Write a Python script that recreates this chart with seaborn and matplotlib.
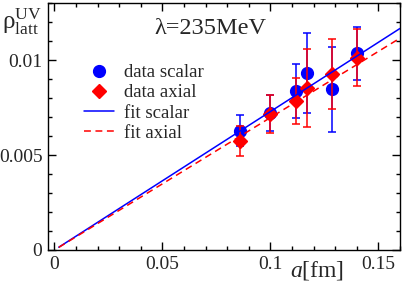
import numpy as np
import pandas as pd
import seaborn as sns
import matplotlib
matplotlib.use("Agg")
import matplotlib.pyplot as plt
from matplotlib.lines import Line2D
from matplotlib.ticker import MultipleLocator, FuncFormatter

# lattice spacing a [fm] and the two channels
a_vals = [0.086, 0.100, 0.112, 0.117, 0.1285, 0.140]
rho_scalar = [0.00628, 0.00720, 0.00837, 0.00930, 0.00846, 0.01035]
err_scalar = [0.00082, 0.00095, 0.00143, 0.00210, 0.00224, 0.00140]
rho_axial = [0.00575, 0.00714, 0.00784, 0.00851, 0.00926, 0.01012]
err_axial = [0.00080, 0.00100, 0.00120, 0.00205, 0.00182, 0.00150]

# fit lines (end points)
fit_a = [0.002, 0.16]
fit_scalar = [0.000146, 0.01166]
fit_axial = [0.000139, 0.01115]

sns.set_style("ticks")
plt.rcParams['font.family'] = ['Liberation Serif', 'DejaVu Serif']
plt.rcParams['mathtext.fontset'] = 'custom'
plt.rcParams['mathtext.rm'] = 'Liberation Serif'
plt.rcParams['mathtext.it'] = 'Liberation Serif:italic'

fig = plt.figure(figsize=(4.03, 2.84), dpi=100)
ax = fig.add_axes([48/403, 1 - 250/284, 352/403, 247/284])

# data points with error bars
ax.errorbar(a_vals, rho_scalar, yerr=err_scalar, fmt='o', color='blue', ms=8.5,
            elinewidth=1.1, capsize=2.6, capthick=1.1, zorder=2)
ax.errorbar(a_vals, rho_axial, yerr=err_axial, fmt='D', color='red', ms=7,
            elinewidth=1.1, capsize=2.6, capthick=1.1, zorder=3)

# fits
fits = pd.DataFrame({'a': fit_a + fit_a,
                     'rho': fit_scalar + fit_axial,
                     'fit': ['fit scalar'] * 2 + ['fit axial'] * 2})
sns.lineplot(data=fits[fits['fit'] == 'fit scalar'], x='a', y='rho', color='blue',
             lw=1.1, ax=ax, zorder=4)
sns.lineplot(data=fits[fits['fit'] == 'fit axial'], x='a', y='rho', color='red',
             lw=1.1, dashes=(4.5, 3), ax=ax, zorder=4)

ax.set_xlim(-0.003, 0.16)
ax.set_ylim(0, 0.013)
ax.xaxis.set_major_locator(MultipleLocator(0.05))
ax.xaxis.set_minor_locator(MultipleLocator(0.01))
ax.yaxis.set_major_locator(MultipleLocator(0.005))
ax.yaxis.set_minor_locator(MultipleLocator(0.001))
fmt = FuncFormatter(lambda v, p: '%g' % round(v, 6))
ax.xaxis.set_major_formatter(fmt)
ax.yaxis.set_major_formatter(fmt)
ax.tick_params(which='both', direction='in', top=True, right=True, width=1.0,
               labelsize=14, color='black')
ax.tick_params(which='major', length=5.5, pad=4)
ax.tick_params(which='minor', length=3)
for s in ax.spines.values():
    s.set_linewidth(1.0)
    s.set_color('black')
ax.set_xlabel('')
ax.set_ylabel('')

handles = [
    Line2D([], [], ls='none', marker='o', color='blue', ms=8.5),
    Line2D([], [], ls='none', marker='D', color='red', ms=7),
    Line2D([], [], color='blue', lw=1.1),
    Line2D([], [], color='red', lw=1.1, dashes=(4.5, 3)),
]
labels = ['data scalar', 'data axial', 'fit scalar', 'fit axial']
ax.legend(handles, labels, loc='upper left', bbox_to_anchor=(0.075, 0.79),
          frameon=False, fontsize=13.5, borderpad=0, handlelength=1.6,
          handletextpad=0.55, labelspacing=0.16)

ax.text(0.46, 0.895, 'λ=235MeV', transform=ax.transAxes, ha='center', va='center',
        fontsize=17.5)
fig.text(2/403, 1 - 22/284, r'$\mathrm{ρ}^{\mathrm{UV}}_{\mathrm{latt}}$',
         ha='left', va='center', fontsize=18)
fig.text(317/403, 1 - 270/284, r'$a$[fm]', ha='center', va='center', fontsize=17)

fig.savefig('out.png', dpi=100)
